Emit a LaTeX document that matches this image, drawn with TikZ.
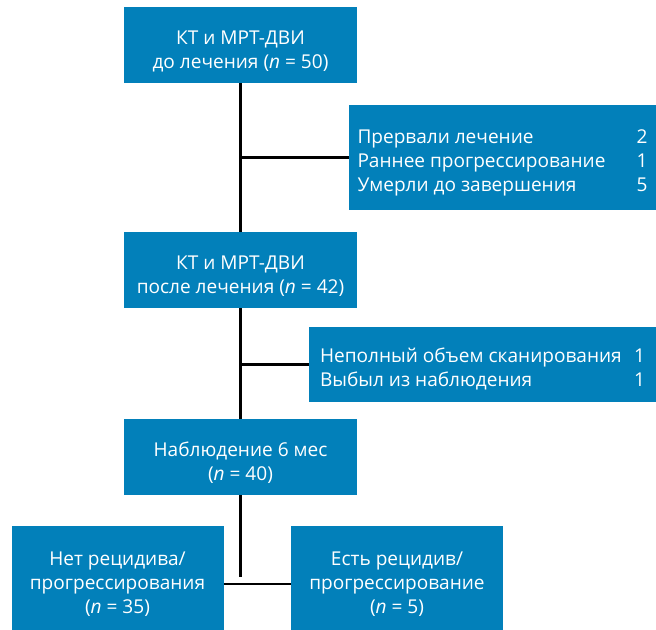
\documentclass[tikz,border=0pt]{standalone}
\usepackage{fontspec}
\setmainfont{Open Sans}
\usetikzlibrary{positioning, calc}
\definecolor{flowblue}{RGB}{2, 128, 186}
\tikzset{
    mainbox/.style={rectangle, fill=flowblue, text=white, align=center,
                    minimum width=174.75pt, minimum height=57pt,
                    inner sep=0pt, font=\fontsize{14.3}{18}\selectfont},
    sidebox/.style={rectangle, fill=flowblue, text=white, align=left,
                    inner sep=0pt, font=\fontsize{14.3}{18}\selectfont,
                    execute at begin node={\rule{0pt}{20pt}}},
    resbox/.style={mainbox, minimum width=159pt, minimum height=78pt},
    link/.style={line width=2pt, color=black},
}
\newcommand{\droprow}[2]{#1 & #2}
\newcommand{\toplift}{\rule{0pt}{20pt}}

\begin{document}
\begin{tikzpicture}[x=0.75pt, y=-0.75pt]
    \useasboundingbox (0,0) rectangle (656,630);

    % Main column
    \node[mainbox] (pre) at (240.5,45) {\toplift КТ и МРТ-ДВИ\\до лечения (\textit{n} = 50)};
    \node[mainbox] (post) at (240.5,270) {\toplift КТ и МРТ-ДВИ\\после лечения (\textit{n} = 42)};
    \node[mainbox] (follow) at (240.5,457) {\toplift Наблюдение 6 мес\\(\textit{n} = 40)};

    % Drop-outs
    \node[sidebox, minimum width=230.25pt, minimum height=78.75pt] (drop1) at (502.5,157.5) {%
        \begin{tabular*}{217.5pt}[t]{@{}l@{\extracolsep{\fill}}r@{}}
        \droprow{Прервали лечение}{2}\\
        \droprow{Раннее прогрессирование}{1}\\
        \droprow{Умерли до завершения}{5}
        \end{tabular*}};
    \node[sidebox, minimum width=260.25pt, minimum height=56.25pt] (drop2) at (482.5,364.5) {%
        \begin{tabular*}{243.75pt}[t]{@{}l@{\extracolsep{\fill}}r@{}}
        \droprow{Неполный объем сканирования}{1}\\
        \droprow{Выбыл из наблюдения}{1}
        \end{tabular*}};

    % Outcomes
    \node[resbox] (norec) at (117.5,578) {\toplift Нет рецидива/\\прогрессирования\\(\textit{n} = 35)};
    \node[resbox] (rec) at (397,578) {\toplift Есть рецидив/\\прогрессирование\\(\textit{n} = 5)};
    \coordinate (stem) at (240.5,577);
    \coordinate (bar) at (240.5,584);

    % Connectors
    \draw[link] (pre) -- (post);
    \draw[link] (pre.south |- drop1.west) -- (drop1.west);
    \draw[link] (post) -- (follow);
    \draw[link] (post.south |- drop2.west) -- (drop2.west);
    \draw[link] (follow) -- (stem);
    \draw[link] (norec.east |- bar) -- (rec.west |- bar);
\end{tikzpicture}
\end{document}
